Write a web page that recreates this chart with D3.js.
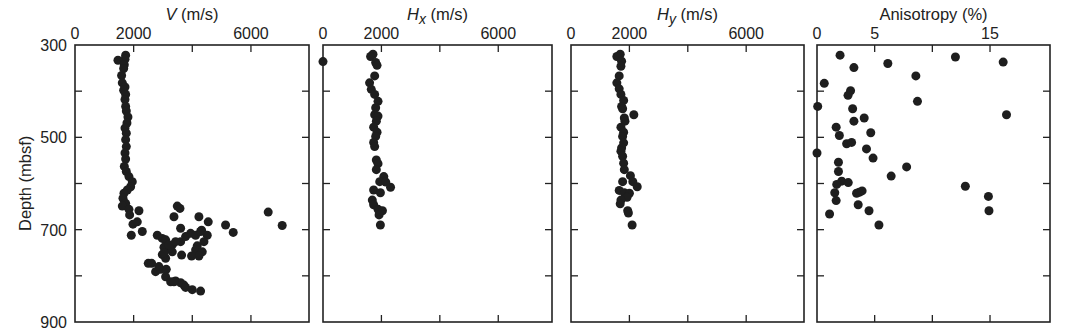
<!DOCTYPE html>
<html><head><meta charset="utf-8">
<script src="https://cdn.jsdelivr.net/npm/d3@7"></script>
<style>
body{margin:0;background:#fff;}
svg text{font-family:"Liberation Sans",Arial,sans-serif;fill:#222;}
</style></head>
<body><svg id="c" width="1066" height="334"></svg>
<script>
// V (m/s) vs depth (mbsf)
const vVel = [1727,1705,1466,1682,1659,1590,1613,1705,1659,1727,1705,1727,1750,1806,1772,1705,1750,1727,1750,1705,1727,1682,1750,1840,1954,1897,1784,1670,1636,1727,1613,1840,1863,2181,1977,2124,2295,1920,3488,3579,3375,4226,3602,4544,4317,5135,5396,6589,7066,2806,2977,3090,3318,3602,3772,3942,4113,4283,4510,4397,4169,4113,4340,4226,3976,3636,3318,3204,3034,2977,3090,2499,2613,2749,2920,3113,3090,3261,3431,3602,3715,3772,3999,4283,3204,3034,3431,2863,3375];
const vDepth = [322,331,333,343,351,366,382,391,398,407,418,433,443,456,469,480,491,505,520,534,547,563,574,585,596,607,614,621,632,643,649,656,668,659,688,683,704,712,649,654,672,672,697,683,701,690,706,662,691,712,719,722,733,726,715,708,712,704,712,726,735,744,748,757,757,755,748,741,738,754,762,773,773,791,786,786,802,813,811,815,820,825,830,833,733,751,726,780,813];
// Hx
const hxVel = [0,1711,1630,1803,1850,1769,1595,1653,1769,1884,1803,1769,1884,1826,1734,1850,1803,1734,1769,1826,1884,1826,2081,2312,1942,1734,1965,1688,1734,1884,2035,1919,1965,2150];
const hxDepth = [336,320,325,338,344,367,382,396,407,422,436,451,454,465,478,489,498,511,520,549,557,570,585,608,596,614,620,636,646,656,659,668,690,597];
// Hy
const hyVel = [1686,1570,1733,1710,1651,1570,1651,1710,1803,1733,1768,2152,1826,1849,1710,1803,1768,1803,1733,1710,1768,1803,1826,2035,2117,2268,1768,1651,1826,2001,1919,1710,1686,1942,1966,2094];
const hyDepth = [320,325,335,346,367,382,395,407,420,433,438,451,458,465,478,489,498,512,523,530,541,556,570,583,596,607,596,615,620,621,630,636,644,659,664,690];
// Anisotropy (%)
const aniso = [2.0,6.14,12.0,16.14,3.2,8.57,0.63,2.91,2.69,8.71,0.06,3.09,16.43,4.09,3.2,1.66,4.66,1.94,2.57,3.0,4.29,0,4.86,7.77,1.86,1.86,6.43,2.14,2.71,1.71,12.86,1.54,3.43,3.66,3.91,1.66,14.86,3.57,1.09,4.51,14.91,5.37];
const anDepth = [322,340,326,337,349,367,383,399,409,422,433,438,451,458,465,478,490,496,514,511,525,534,545,564,554,574,584,595,598,602,606,620,621,619,616,637,628,646,666,659,659,690];

const depthTicks = [300,400,500,600,700,800,900];
const depthLabels = [300,500,700,900];
const velTicks = [0,2000,4000,6000];
const velLabels = [0,2000,6000];
const anTicks = [0,5,10,15];
const anLabels = [0,5,15];

const svg = d3.select("#c");
const yTop = 45, yBot = 322;
const y = d3.scaleLinear().domain([300,900]).range([yTop,yBot]);

const panels = [
  {x0:75, x1:309, domain:[0,7980], xs:vVel, ys:vDepth, ticks:velTicks, labels:velLabels, title:"V", italic:true, leftLabels:true},
  {x0:323, x1:552, domain:[0,7840], xs:hxVel, ys:hxDepth, ticks:velTicks, labels:velLabels, title:"H", sub:"x", italic:true},
  {x0:571, x1:804, domain:[0,7980], xs:hyVel, ys:hyDepth, ticks:velTicks, labels:velLabels, title:"H", sub:"y", italic:true},
  {x0:817, x1:1050, domain:[0,20.2], xs:aniso, ys:anDepth, ticks:anTicks, labels:anLabels, title:"Anisotropy (%)"}
];

const tl = 7;
panels.forEach(p => {
  const x = d3.scaleLinear().domain(p.domain).range([p.x0,p.x1]);
  const g = svg.append("g");
  g.append("rect").attr("x",p.x0).attr("y",yTop).attr("width",p.x1-p.x0).attr("height",yBot-yTop)
    .attr("fill","none").attr("stroke","#222").attr("stroke-width",1.6);
  p.ticks.forEach(t => {
    if (t === p.domain[0]) return;
    const xx = x(t);
    g.append("line").attr("x1",xx).attr("x2",xx).attr("y1",yTop).attr("y2",yTop+tl).attr("stroke","#222").attr("stroke-width",1.3);
    g.append("line").attr("x1",xx).attr("x2",xx).attr("y1",yBot).attr("y2",yBot-tl).attr("stroke","#222").attr("stroke-width",1.3);
  });
  depthTicks.forEach(t => {
    if (t===300 || t===900) return;
    const yy = y(t);
    g.append("line").attr("x1",p.x0).attr("x2",p.x0+tl).attr("y1",yy).attr("y2",yy).attr("stroke","#222").attr("stroke-width",1.3);
    g.append("line").attr("x1",p.x1).attr("x2",p.x1-tl).attr("y1",yy).attr("y2",yy).attr("stroke","#222").attr("stroke-width",1.3);
  });
  p.labels.forEach(t => {
    g.append("text").attr("x",x(t)).attr("y",39).attr("text-anchor","middle")
      .attr("font-size",16).text(d3.format("d")(t));
  });
  const tt = g.append("text").attr("x",(p.x0+p.x1)/2).attr("y",20).attr("text-anchor","middle").attr("font-size",16.5);
  if (p.italic) {
    tt.append("tspan").attr("font-style","italic").text(p.title);
    if (p.sub) tt.append("tspan").attr("font-style","italic").attr("dy",4).attr("font-size",14).text(p.sub);
    tt.append("tspan").attr("dy",p.sub?-4:0).text(" (m/s)");
  } else tt.text(p.title);
  if (p.leftLabels) {
    depthLabels.forEach(d => {
      g.append("text").attr("x",p.x0-8).attr("y",y(d)+6).attr("text-anchor","end").attr("font-size",16).text(d);
    });
    g.append("text").attr("transform",`translate(31,${y(500)+46}) rotate(-90)`).attr("text-anchor","middle")
      .attr("font-size",16.5).text("Depth (mbsf)");
  }
  g.selectAll("circle").data(p.xs.map((v,i)=>[v,p.ys[i]])).join("circle")
    .attr("cx",d=>x(d[0])).attr("cy",d=>y(d[1])).attr("r",4.5).attr("fill","#1e1e1e");
});
</script></body></html>
